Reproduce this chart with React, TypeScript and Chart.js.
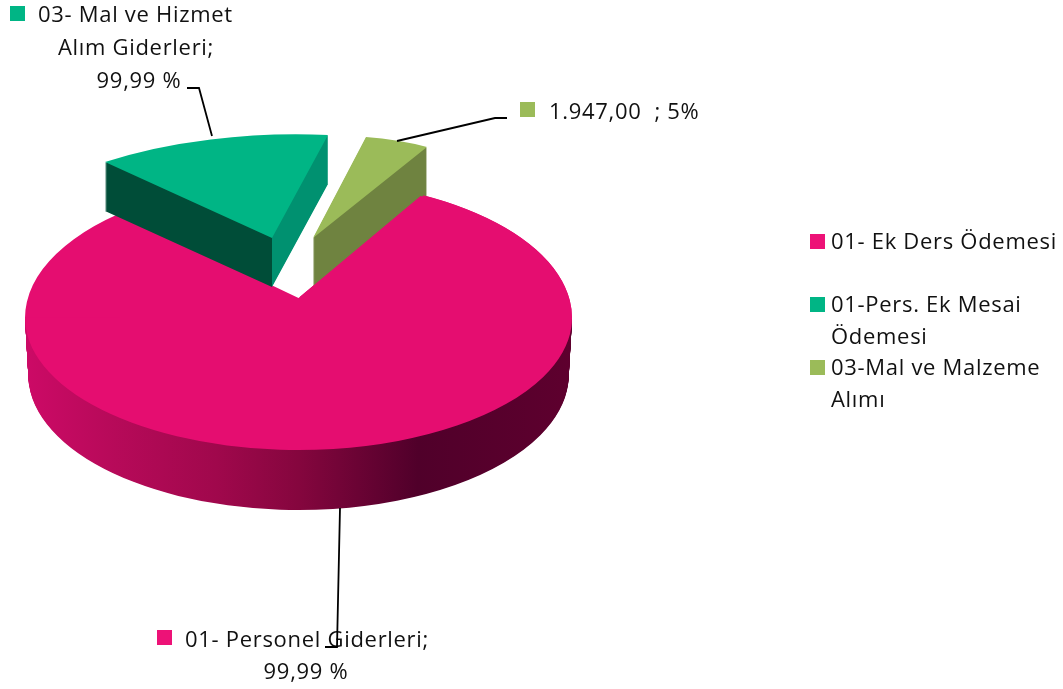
import React, { useEffect, useRef } from "react";
import { Chart, registerables } from "chart.js";

Chart.register(...registerables);

const categories = ["01- Ek Ders Ödemesi", "01-Pers. Ek Mesai Ödemesi", "03-Mal ve Malzeme Alımı"];
const legendLines = [["01- Ek Ders Ödemesi"], ["01-Pers. Ek Mesai", "Ödemesi"], ["03-Mal ve Malzeme", "Alımı"]];
const values = [31620, 5373, 1947];
const sliceColors = ["#E50D70", "#00B585", "#9BBB59"];
const swatchColors = ["#ED1277", "#00B585", "#9BBB59"];
const pinkLabel = ["01- Personel Giderleri;", "99,99 %"];
const greenLabel = ["03- Mal ve Hizmet", "Alım Giderleri;", "99,99 %"];
const oliveLabel = ["1.947,00  ; 5%"];

const FONT = '22px "Open Sans"';
const SPACING = "0.7px";
const R = 273.5;

type M = [number, number, number, number];

function applyAffine(ctx: any, arc: any, ox: number, oy: number, m: M) {
  // maps chart-local arc coordinates to the projected pie plane
  ctx.transform(m[0], m[1], m[2], m[3], ox - m[0] * arc.x - m[2] * arc.y, oy - m[1] * arc.x - m[3] * arc.y);
}

// matrix carrying the two radial edges of an arc onto two target edge vectors
function edgeMatrix(arc: any, a: number[], b: number[]): M {
  const ux = Math.cos(arc.startAngle) * R, uy = Math.sin(arc.startAngle) * R;
  const vx = Math.cos(arc.endAngle) * R, vy = Math.sin(arc.endAngle) * R;
  const det = ux * vy - vx * uy;
  return [
    (a[0] * vy - b[0] * uy) / det,
    (a[1] * vy - b[1] * uy) / det,
    (b[0] * ux - a[0] * vx) / det,
    (b[1] * ux - a[1] * vx) / det,
  ];
}

function withColor(arc: any, color: any, fn: () => void) {
  const o = arc.options;
  arc.options = { ...o, backgroundColor: color, borderColor: color, borderWidth: 0 };
  fn();
  arc.options = o;
}

const pie3d = {
  id: "pie3d",
  beforeDatasetDraw() {
    // the projected slices are painted in beforeDatasetsDraw; skip the flat pass
    return false;
  },
  beforeDatasetsDraw(chart: any) {
    const ctx = chart.ctx;
    const [pink, green, olive] = chart.getDatasetMeta(0).data;
    const W = chart.width, H = chart.height;
    const cx = 298.5, cy = 318, apexY = 298;

    // pink wall
    const wall = ctx.createLinearGradient(pink.x - R, 0, pink.x + R, 0);
    wall.addColorStop(0, "#CC0A66");
    wall.addColorStop(0.15, "#B80A5A");
    wall.addColorStop(0.35, "#A0084C");
    wall.addColorStop(0.5, "#85063E");
    wall.addColorStop(0.72, "#50002A");
    wall.addColorStop(1, "#5E002E");
    withColor(pink, wall, () => {
      const n = 70;
      for (let i = n; i >= 0; i--) {
        const t = i / n;
        ctx.save();
        ctx.beginPath();
        ctx.rect(0, cy + 1, W, H);
        ctx.clip();
        applyAffine(ctx, pink, cx, cy + 57 * t, [1 - 0.012 * t, 0, 0, (132 + 3 * t) / R]);
        pink.draw(ctx);
        ctx.restore();
      }
    });

    // pink top face: the outline and the apex sit on two projections (perspective)
    const topFace = (x0: number, y0: number, w: number, h: number, oy: number, ry: number) => {
      ctx.save();
      ctx.beginPath();
      ctx.rect(x0, y0, w, h);
      ctx.clip();
      applyAffine(ctx, pink, cx, oy, [1, 0, 0, ry / R]);
      pink.draw(ctx);
      ctx.restore();
    };
    const face = () => {
      topFace(0, 0, W, cy, cy, 138);
      topFace(0, cy - 0.5, W, H, cy, 132);
      topFace(120, 190, 303, 130, apexY, 114);
    };
    face();

    // exploded slices
    const drawExploded = (arc: any, ax: number, ay: number, m: M, depth: number, left: string, right: string) => {
      // gradient with a hard stop along canvas x = ax, expressed in arc-local space
      const q = m[0] * m[0] + m[2] * m[2];
      const p = (dx: number) => [arc.x + (dx * m[0]) / q, arc.y + (dx * m[2]) / q];
      const a0 = p(-300), a1 = p(300);
      const g = ctx.createLinearGradient(a0[0], a0[1], a1[0], a1[1]);
      g.addColorStop(0, left);
      g.addColorStop(0.5, left);
      g.addColorStop(0.5, right);
      g.addColorStop(1, right);
      withColor(arc, g, () => {
        for (let d = depth; d >= 1; d--) {
          ctx.save();
          applyAffine(ctx, arc, ax, ay + d, m);
          arc.draw(ctx);
          ctx.restore();
        }
      });
      ctx.save();
      applyAffine(ctx, arc, ax, ay, m);
      arc.draw(ctx);
      ctx.restore();
    };
    drawExploded(olive, 313, 238, edgeMatrix(olive, [53, -101], [114, -91]), 49, "#6F8340", "#6F8340");
    drawExploded(green, 272, 238, edgeMatrix(green, [-167, -76], [56, -103]), 49, "#004D38", "#009170");

    // the pink edge stays in front of the olive wall's foot
    topFace(300, 188, 123, 130, apexY, 114);
    topFace(423, 188, W, 130, cy, 138);
  },
  afterDatasetsDraw(chart: any) {
    const ctx = chart.ctx;
    ctx.save();
    ctx.textBaseline = "alphabetic";
    ctx.font = FONT;
    ctx.letterSpacing = SPACING;
    ctx.fillStyle = "#111";
    ctx.strokeStyle = "#000";
    ctx.lineWidth = 1.8;

    const poly = (pts: number[][]) => {
      ctx.beginPath();
      pts.forEach((p, i) => (i ? ctx.lineTo(p[0], p[1]) : ctx.moveTo(p[0], p[1])));
      ctx.stroke();
    };
    const swatch = (x: number, y: number, c: string) => {
      ctx.fillStyle = c;
      ctx.fillRect(x, y, 15, 15);
      ctx.fillStyle = "#111";
    };

    // data labels
    ctx.textAlign = "left";
    swatch(10, 6, swatchColors[1]);
    ctx.fillText(greenLabel[0], 38, 22);
    ctx.textAlign = "center";
    ctx.fillText(greenLabel[1], 136, 55);
    ctx.fillText(greenLabel[2], 139, 88);
    poly([[187, 88], [199, 88], [212, 136]]);

    ctx.textAlign = "left";
    swatch(520, 102, swatchColors[2]);
    ctx.fillText(oliveLabel[0], 549, 119);
    poly([[397, 141], [495, 118], [507, 118]]);

    swatch(157, 630, swatchColors[0]);
    ctx.fillText(pinkLabel[0], 185, 647);
    ctx.textAlign = "center";
    ctx.fillText(pinkLabel[1], 306, 679);
    poly([[340, 508], [337, 647], [325, 647]]);

    // legend
    ctx.textAlign = "left";
    const tops = [234, 297, 360];
    legendLines.forEach((lines, i) => {
      swatch(810, tops[i], swatchColors[i]);
      lines.forEach((l, j) => ctx.fillText(l, 831, tops[i] + 15 + j * 32));
    });
    ctx.restore();
  },
};

export default function App() {
  const ref = useRef<HTMLCanvasElement>(null);
  useEffect(() => {
    const chart = new Chart(ref.current as HTMLCanvasElement, {
      type: "pie",
      data: {
        labels: categories,
        datasets: [{ data: values, backgroundColor: sliceColors, borderWidth: 0, radius: R } as any],
      },
      options: {
        responsive: false,
        animation: false,
        rotation: 26.5,
        plugins: { legend: { display: false }, tooltip: { enabled: false } },
        layout: { padding: 0 },
      },
      plugins: [pie3d as any],
    } as any);
    return () => chart.destroy();
  }, []);
  return (
    <canvas
      ref={ref}
      width={1063}
      height={689}
      style={{ position: "absolute", left: 0, top: 0, width: 1063, height: 689 }}
    />
  );
}
